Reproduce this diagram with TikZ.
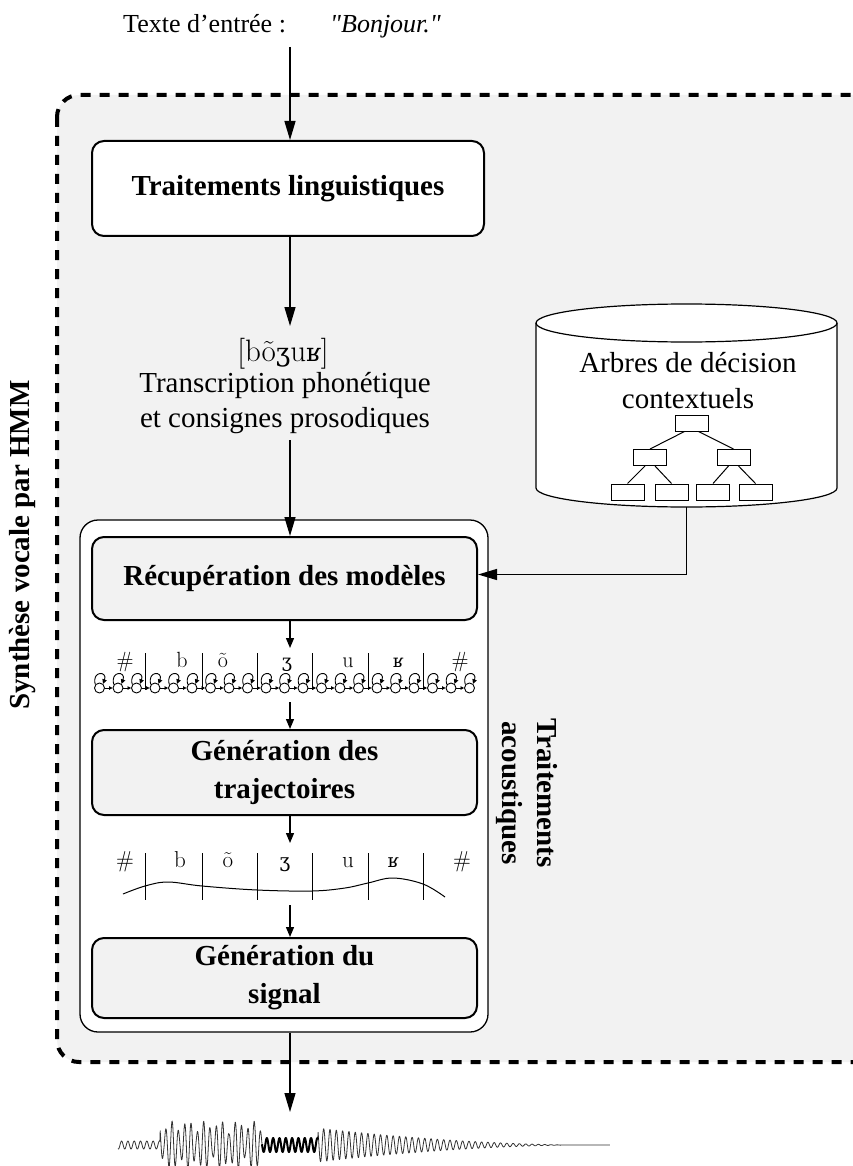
\documentclass[tikz,border=0pt]{standalone}
\usepackage{fontspec}
\newfontfamily\tm{Liberation Serif}
\newfontfamily\ipa[Scale=0.82]{DejaVu Serif}
\usetikzlibrary{arrows.meta}
\definecolor{panel}{HTML}{F2F2F2}
\definecolor{wavegray}{HTML}{333333}
\tikzset{
  bigarrow/.style={line width=1.3pt,-{Triangle[length=19pt,width=11pt]}},
  smallarrow/.style={line width=1.3pt,-{Triangle[length=10pt,width=8pt]}},
  procbox/.style={draw,line width=2pt,rounded corners=12pt,fill=panel,align=center,inner sep=0pt,
    font=\tm\bfseries\fontsize{29}{38}\selectfont},
  plain/.style={inner sep=0pt,font=\tm\fontsize{29}{36}\selectfont},
  titletext/.style={inner sep=0pt,font=\tm\fontsize{26}{30}\selectfont},
  phonlab/.style={inner sep=0pt,anchor=base,font=\fontsize{22}{24}\selectfont},
  state/.style={circle,draw,line width=0.9pt,minimum size=10pt,inner sep=0pt,fill=white},
  trans/.style={line width=0.9pt,-{Triangle[length=3.5pt,width=3.5pt]}},
  selfloop/.style={line width=0.9pt,-{Triangle[length=4.5pt,width=4.5pt]}},
  sepline/.style={line width=1pt},
  treebox/.style={draw,line width=1pt,minimum width=33pt,minimum height=16pt,inner sep=0pt,fill=white},
  treeedge/.style={line width=1pt},
  cyl/.style={line width=1.2pt},
  sidelabel/.style={inner sep=0pt,align=center,font=\tm\bfseries\fontsize{29}{35}\selectfont},
}
\begin{document}
\begin{tikzpicture}[x=1pt,y=-1pt]
\useasboundingbox (0,0) rectangle (853,1166);
\clip (0,0) rectangle (853,1166);

% outer dashed frame of the synthesis system
\path[draw,fill=panel,line width=4pt,dash pattern=on 10pt off 9pt,rounded corners=22pt]
  (57,95) rectangle (880,1062);

% input text
\node[titletext,anchor=base west] (intxt) at (123,33) {Texte d’entrée :};
\node[titletext,anchor=base west,font=\tm\itshape\fontsize{26}{30}\selectfont] (inword) at (330,33) {"Bonjour."};
\coordinate (inA) at (290,47);

% linguistic processing
\node[procbox,fill=white,minimum width=392pt,minimum height=95pt] (ling) at (288,188.5) {Traitements linguistiques};
\draw[bigarrow] (inA) -- (inA |- ling.north);

% phonetic transcription
\node[inner sep=0pt,anchor=base,font=\fontsize{31}{34}\selectfont] (phonA) at (283,361) {[bõ{\ipa ʒ}u{\ipa ʁ}]};
\node[plain,anchor=base] (phonB) at (285,392) {Transcription phonétique};
\node[plain,anchor=base] (phonC) at (285,427) {et consignes prosodiques};
\coordinate (phonTop) at (290,326);
\coordinate (phonBot) at (290,440);
\draw[bigarrow] (ling.south -| inA) -- (phonTop);

% acoustic processing container
\node[draw,line width=1.3pt,rounded corners=18pt,fill=white,minimum width=408pt,minimum height=512pt] (acou) at (284,776) {};
\node[sidelabel,rotate=-90] (acoulab) at (527,793) {Traitements\\acoustiques};

\node[procbox,minimum width=385pt,minimum height=83pt] (recup) at (284.5,578.5) {Récupération des modèles};
\node[procbox,minimum width=385pt,minimum height=85pt] (traj) at (284.5,772.5) {Génération des\\trajectoires};
\node[procbox,minimum width=385pt,minimum height=80pt] (signal) at (284.5,978) {Génération du\\signal};

\draw[bigarrow] (phonBot) -- (phonBot |- recup.north);

% HMM state chain
\foreach \i in {0,...,6}{
  \foreach \j/\o in {0/10,1/28.5,2/47}{
    \pgfmathsetmacro\cx{89.5+55.5*\i+\o}
    \node[state] (s\i\j) at (\cx,688) {};
    \draw[selfloop] (s\i\j.140) .. controls +(-4,-14) and +(5,-13) .. (s\i\j.50);
  }
  \draw[trans] (s\i0) -- (s\i1);
  \draw[trans] (s\i1) -- (s\i2);
}
\foreach \i [evaluate=\i as \n using int(\i+1)] in {0,...,5}{
  \draw[trans] (s\i2) -- (s\n0);
}
\foreach \x in {145,202,257,312,368,423}{
  \draw[sepline] (\x,653) -- (\x,690);
}
\node[phonlab] (ca) at (125,667) {\#};
\node[phonlab] (cb) at (182,667) {b};
\node[phonlab] (cc) at (223,667) {õ};
\node[phonlab] (cd) at (287,667) {\ipa ʒ};
\node[phonlab] (ce) at (348,667) {u};
\node[phonlab] (cf) at (398,667) {\ipa ʁ};
\node[phonlab] (cg) at (460,667) {\#};

\coordinate (chainTop) at (290,648);
\coordinate (chainBot) at (290,702);
\draw[smallarrow] (recup.south -| inA) -- (chainTop);
\draw[smallarrow] (chainBot) -- (chainBot |- traj.north);

% parameter trajectory
\foreach \x in {145,202,257,312,368,423}{
  \draw[sepline] (\x,853) -- (\x,900);
}
\node[phonlab,font=\fontsize{23}{25}\selectfont] (ta) at (125,867) {\#};
\node[phonlab,font=\fontsize{23}{25}\selectfont] (tb) at (180,867) {b};
\node[phonlab,font=\fontsize{23}{25}\selectfont] (tc) at (228,867) {õ};
\node[phonlab,font=\fontsize{23}{25}\selectfont] (td) at (285,867) {\ipa ʒ};
\node[phonlab,font=\fontsize{23}{25}\selectfont] (te) at (348,867) {u};
\node[phonlab,font=\fontsize{23}{25}\selectfont] (tf) at (393,867) {\ipa ʁ};
\node[phonlab,font=\fontsize{23}{25}\selectfont] (tg) at (462,867) {\#};
\draw[line width=1pt] plot[smooth,tension=0.6] coordinates {(123,894) (145,886) (168,882) (202,886) (257,890) (312,891) (345,888) (368,883) (393,878) (423,884) (445,897)};

\coordinate (trajTop) at (290,843);
\coordinate (trajBot) at (290,905);
\draw[smallarrow] (traj.south -| inA) -- (trajTop);
\draw[smallarrow] (trajBot) -- (trajBot |- signal.north);

% decision tree database
\path[fill=white] (536,323) -- (536,488) arc[start angle=180,end angle=0,x radius=150.5,y radius=19] -- (837,323) -- cycle;
\draw[cyl,fill=white] (686.5,323) ellipse[x radius=150.5,y radius=19];
\draw[cyl] (536,323) -- (536,488) arc[start angle=180,end angle=0,x radius=150.5,y radius=19] -- (837,323);
\node[plain,anchor=base] (dbA) at (688,372) {Arbres de décision};
\node[plain,anchor=base] (dbB) at (688,408) {contextuels};
\node[treebox] (t0) at (691.5,423) {};
\node[treebox] (t1) at (650,457.5) {};
\node[treebox] (t2) at (733.5,457.5) {};
\node[treebox] (t3) at (627.5,492) {};
\node[treebox] (t4) at (671.5,492) {};
\node[treebox] (t5) at (713,492) {};
\node[treebox] (t6) at (755.5,492) {};
\draw[treeedge] ([xshift=-7pt]t0.south) -- (t1.north);
\draw[treeedge] ([xshift=7pt]t0.south) -- (t2.north);
\draw[treeedge] ([xshift=-5pt]t1.south) -- (t3.north);
\draw[treeedge] ([xshift=5pt]t1.south) -- (t4.north);
\draw[treeedge] ([xshift=-5pt]t2.south) -- (t5.north);
\draw[treeedge] ([xshift=5pt]t2.south) -- (t6.north);
\coordinate (dbBottom) at (686.5,507);
\draw[bigarrow] (dbBottom) |- ([yshift=4pt]recup.east);

% system label
\node[sidelabel,rotate=90] (syslab) at (23,545) {Synthèse vocale par HMM};

% output speech waveform (phase reduced modulo one period to keep angles small)
\coordinate (outTip) at (290,1112);
\draw[bigarrow] (acou.south -| inA) -- (outTip);
\draw[line width=0.8pt,wavegray,line join=round] plot[domain=118:610,samples=1400,variable=\t]
  (\t,{1145-((\t<160)*4+(\t>=160)*(\t<262)*24*(0.45+0.55*abs(sin(11*\t)))+(\t>=262)*(\t<318)*7
   +(\t>=318)*17*(max(565-\t,0)/247)*(0.3+0.7*max(565-\t,0)/247))*sin(57*mod(\t,6.315789))});
\draw[line width=2pt,black,line join=round] plot[domain=262:318,samples=150,variable=\t]
  (\t,{1145-7*sin(57*mod(\t,6.315789))});
\end{tikzpicture}
\end{document}
